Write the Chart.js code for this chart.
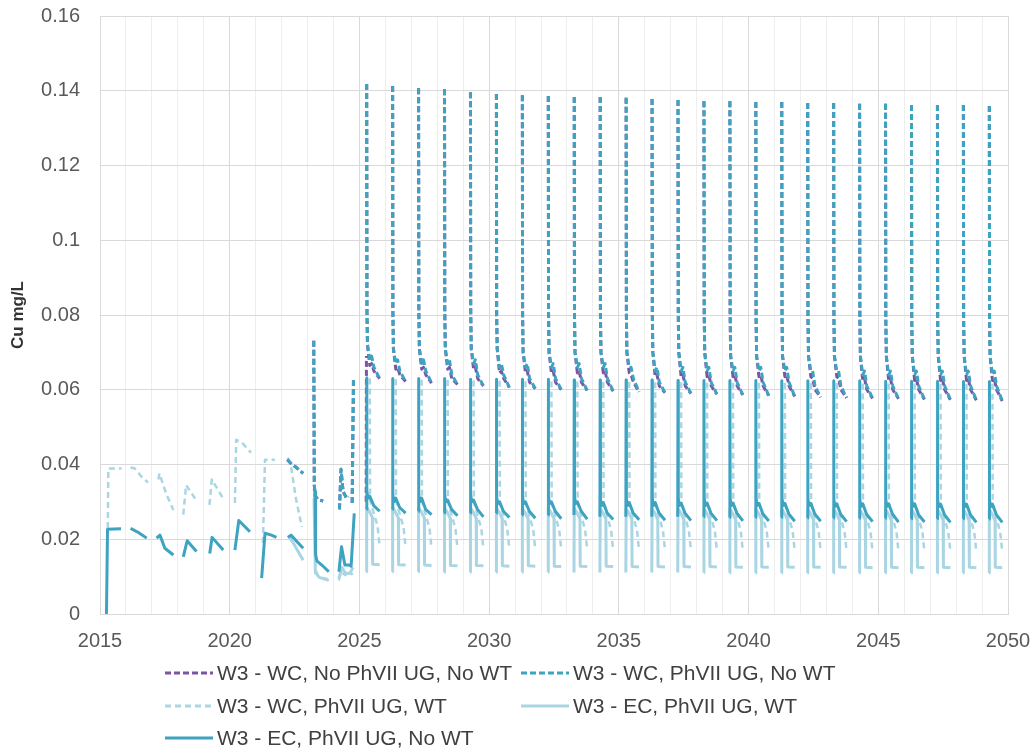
<!DOCTYPE html>
<html>
<head>
<meta charset="utf-8">
<title>W3 Cu</title>
<script src="https://cdn.jsdelivr.net/npm/chart.js@4.4.1/dist/chart.umd.min.js"></script>
<style>
body{margin:0;background:#fff;}
#wrap{position:relative;width:1034px;height:755px;}
#legend{position:absolute;left:165px;top:657px;display:grid;grid-template-columns:356px auto;}
.item{display:flex;align-items:center;height:32.5px;font:21px "Liberation Sans",Arial,sans-serif;color:#404040;white-space:nowrap;}
.item svg{margin-right:4px;}
</style>
</head>
<body>
<div id="wrap"><canvas id="chart-cu"></canvas><div id="legend"></div></div>
<script>
// tick labels
const yearTicks = [2015, 2020, 2025, 2030, 2035, 2040, 2045, 2050];

// W3 - WC, No WT (both UG cases share the same time points)
const wcNoWtYears = [
  2022.22, 2022.40, 2022.55, 2022.83, 2022.84,
  2023.24, 2023.26, 2023.30, 2023.40, 2023.60, 2023.61,
  2024.23, 2024.29, 2024.37, 2024.50, 2024.58, 2024.59, 2024.72, 2024.77, 2024.78,
  2025.26, 2025.27, 2025.275,
  2025.28, 2025.29, 2025.31, 2025.40, 2025.47, 2025.56, 2025.78, 2025.79,
  2026.28, 2026.29, 2026.31, 2026.40, 2026.47, 2026.56, 2026.78, 2026.79,
  2027.28, 2027.29, 2027.31, 2027.40, 2027.47, 2027.56, 2027.78, 2027.79,
  2028.28, 2028.29, 2028.31, 2028.40, 2028.47, 2028.56, 2028.78, 2028.79,
  2029.28, 2029.29, 2029.31, 2029.40, 2029.47, 2029.56, 2029.78, 2029.79,
  2030.28, 2030.29, 2030.31, 2030.40, 2030.47, 2030.56, 2030.78, 2030.79,
  2031.28, 2031.29, 2031.31, 2031.40, 2031.47, 2031.56, 2031.78, 2031.79,
  2032.28, 2032.29, 2032.31, 2032.40, 2032.47, 2032.56, 2032.78, 2032.79,
  2033.28, 2033.29, 2033.31, 2033.40, 2033.47, 2033.56, 2033.78, 2033.79,
  2034.28, 2034.29, 2034.31, 2034.40, 2034.47, 2034.56, 2034.78, 2034.79,
  2035.28, 2035.29, 2035.31, 2035.40, 2035.47, 2035.56, 2035.78, 2035.79,
  2036.28, 2036.29, 2036.31, 2036.40, 2036.47, 2036.56, 2036.78, 2036.79,
  2037.28, 2037.29, 2037.31, 2037.40, 2037.47, 2037.56, 2037.78, 2037.79,
  2038.28, 2038.29, 2038.31, 2038.40, 2038.47, 2038.56, 2038.78, 2038.79,
  2039.28, 2039.29, 2039.31, 2039.40, 2039.47, 2039.56, 2039.78, 2039.79,
  2040.28, 2040.29, 2040.31, 2040.40, 2040.47, 2040.56, 2040.78, 2040.79,
  2041.28, 2041.29, 2041.31, 2041.40, 2041.47, 2041.56, 2041.78, 2041.79,
  2042.28, 2042.29, 2042.31, 2042.40, 2042.47, 2042.56, 2042.78, 2042.79,
  2043.28, 2043.29, 2043.31, 2043.40, 2043.47, 2043.56, 2043.78, 2043.79,
  2044.28, 2044.29, 2044.31, 2044.40, 2044.47, 2044.56, 2044.78, 2044.79,
  2045.28, 2045.29, 2045.31, 2045.40, 2045.47, 2045.56, 2045.78, 2045.79,
  2046.28, 2046.29, 2046.31, 2046.40, 2046.47, 2046.56, 2046.78, 2046.79,
  2047.28, 2047.29, 2047.31, 2047.40, 2047.47, 2047.56, 2047.78, 2047.79,
  2048.28, 2048.29, 2048.31, 2048.40, 2048.47, 2048.56, 2048.78, 2048.79,
  2049.28, 2049.29, 2049.31, 2049.40, 2049.47, 2049.56, 2049.78, 2049.79
];
const wcNoUgNoWt = [
  0.0413, 0.0400, 0.0393, 0.0376, null,
  0.0731, 0.0344, 0.0315, 0.0307, 0.0302, null,
  0.0280, 0.0387, 0.0328, 0.0310, 0.0314, null, 0.0297, 0.0630, null,
  0.0300, 0.0690, null,
  0.1418, 0.081, 0.072, 0.0665, 0.067, 0.065, 0.0630, null,
  0.1413, 0.081, 0.071, 0.0655, 0.066, 0.064, 0.0622, null,
  0.1407, 0.081, 0.071, 0.0655, 0.066, 0.064, 0.0618, null,
  0.1404, 0.081, 0.071, 0.0655, 0.066, 0.063, 0.0614, null,
  0.1396, 0.081, 0.071, 0.0655, 0.066, 0.063, 0.0610, null,
  0.1391, 0.080, 0.071, 0.0645, 0.065, 0.063, 0.0606, null,
  0.1388, 0.080, 0.070, 0.0645, 0.065, 0.062, 0.0603, null,
  0.1386, 0.080, 0.070, 0.0645, 0.065, 0.062, 0.0600, null,
  0.1383, 0.080, 0.070, 0.0645, 0.065, 0.062, 0.0598, null,
  0.1383, 0.080, 0.070, 0.0645, 0.065, 0.062, 0.0596, null,
  0.1381, 0.080, 0.070, 0.0645, 0.064, 0.062, 0.0594, null,
  0.1378, 0.080, 0.070, 0.0635, 0.064, 0.061, 0.0592, null,
  0.1375, 0.080, 0.070, 0.0635, 0.064, 0.061, 0.0590, null,
  0.1372, 0.080, 0.070, 0.0635, 0.064, 0.061, 0.0588, null,
  0.1372, 0.080, 0.069, 0.0635, 0.064, 0.061, 0.0586, null,
  0.1370, 0.079, 0.069, 0.0635, 0.064, 0.061, 0.0584, null,
  0.1370, 0.079, 0.069, 0.0635, 0.064, 0.061, 0.0582, null,
  0.1367, 0.079, 0.069, 0.0635, 0.063, 0.060, 0.0580, null,
  0.1367, 0.079, 0.069, 0.0635, 0.063, 0.060, 0.0578, null,
  0.1365, 0.079, 0.069, 0.0625, 0.063, 0.060, 0.0577, null,
  0.1365, 0.079, 0.069, 0.0625, 0.063, 0.060, 0.0576, null,
  0.1362, 0.079, 0.069, 0.0625, 0.063, 0.060, 0.0574, null,
  0.1362, 0.079, 0.069, 0.0625, 0.063, 0.060, 0.0573, null,
  0.1362, 0.079, 0.069, 0.0625, 0.063, 0.060, 0.0572, null,
  0.1359, 0.079, 0.069, 0.0625, 0.063, 0.060, 0.0570, null
];
const wcUgNoWt = [
  0.0413, 0.0400, 0.0393, 0.0376, null,
  0.0731, 0.0344, 0.0315, 0.0307, 0.0302, null,
  0.0280, 0.0387, 0.0328, 0.0310, 0.0314, null, 0.0297, 0.0630, null,
  null, null, null,
  0.1418, 0.081, 0.072, 0.068, 0.069, 0.066, 0.0630, null,
  0.1413, 0.081, 0.071, 0.067, 0.068, 0.065, 0.0622, null,
  0.1407, 0.081, 0.071, 0.067, 0.068, 0.065, 0.0618, null,
  0.1404, 0.081, 0.071, 0.067, 0.068, 0.064, 0.0614, null,
  0.1396, 0.081, 0.071, 0.067, 0.068, 0.064, 0.0610, null,
  0.1391, 0.080, 0.071, 0.066, 0.067, 0.064, 0.0606, null,
  0.1388, 0.080, 0.070, 0.066, 0.067, 0.063, 0.0603, null,
  0.1386, 0.080, 0.070, 0.066, 0.067, 0.063, 0.0600, null,
  0.1383, 0.080, 0.070, 0.066, 0.067, 0.063, 0.0598, null,
  0.1383, 0.080, 0.070, 0.066, 0.067, 0.063, 0.0596, null,
  0.1381, 0.080, 0.070, 0.066, 0.066, 0.063, 0.0594, null,
  0.1378, 0.080, 0.070, 0.065, 0.066, 0.062, 0.0592, null,
  0.1375, 0.080, 0.070, 0.065, 0.066, 0.062, 0.0590, null,
  0.1372, 0.080, 0.070, 0.065, 0.066, 0.062, 0.0588, null,
  0.1372, 0.080, 0.069, 0.065, 0.066, 0.062, 0.0586, null,
  0.1370, 0.079, 0.069, 0.065, 0.066, 0.062, 0.0584, null,
  0.1370, 0.079, 0.069, 0.065, 0.066, 0.062, 0.0582, null,
  0.1367, 0.079, 0.069, 0.065, 0.065, 0.061, 0.0580, null,
  0.1367, 0.079, 0.069, 0.065, 0.065, 0.061, 0.0578, null,
  0.1365, 0.079, 0.069, 0.064, 0.065, 0.061, 0.0577, null,
  0.1365, 0.079, 0.069, 0.064, 0.065, 0.061, 0.0576, null,
  0.1362, 0.079, 0.069, 0.064, 0.065, 0.061, 0.0574, null,
  0.1362, 0.079, 0.069, 0.064, 0.065, 0.061, 0.0573, null,
  0.1362, 0.079, 0.069, 0.064, 0.065, 0.061, 0.0572, null,
  0.1359, 0.079, 0.069, 0.064, 0.065, 0.061, 0.0570, null
];

// W3 - WC, PhVII UG, WT
const wcWtYears = [
  2015.30, 2015.32, 2015.83, 2015.84,
  2016.18, 2016.33, 2016.62, 2016.85, 2016.86,
  2017.25, 2017.29, 2017.55, 2017.83, 2017.84,
  2018.21, 2018.32, 2018.72, 2018.73,
  2019.22, 2019.31, 2019.74, 2019.75,
  2020.20, 2020.25, 2020.45, 2020.82, 2020.83,
  2021.28, 2021.36, 2021.74, 2021.75,
  2022.24, 2022.36, 2022.55, 2022.78, 2022.79,
  2023.26, 2023.30, 2023.42, 2023.60, 2023.84, 2023.85,
  2024.20, 2024.30, 2024.45, 2024.62, 2024.74, 2024.75,
  2025.40, 2025.41, 2025.55, 2025.70, 2025.78, 2025.79,
  2026.40, 2026.41, 2026.55, 2026.70, 2026.78, 2026.79,
  2027.40, 2027.41, 2027.55, 2027.70, 2027.78, 2027.79,
  2028.40, 2028.41, 2028.55, 2028.70, 2028.78, 2028.79,
  2029.40, 2029.41, 2029.55, 2029.70, 2029.78, 2029.79,
  2030.40, 2030.41, 2030.55, 2030.70, 2030.78, 2030.79,
  2031.40, 2031.41, 2031.55, 2031.70, 2031.78, 2031.79,
  2032.40, 2032.41, 2032.55, 2032.70, 2032.78, 2032.79,
  2033.40, 2033.41, 2033.55, 2033.70, 2033.78, 2033.79,
  2034.40, 2034.41, 2034.55, 2034.70, 2034.78, 2034.79,
  2035.40, 2035.41, 2035.55, 2035.70, 2035.78, 2035.79,
  2036.40, 2036.41, 2036.55, 2036.70, 2036.78, 2036.79,
  2037.40, 2037.41, 2037.55, 2037.70, 2037.78, 2037.79,
  2038.40, 2038.41, 2038.55, 2038.70, 2038.78, 2038.79,
  2039.40, 2039.41, 2039.55, 2039.70, 2039.78, 2039.79,
  2040.40, 2040.41, 2040.55, 2040.70, 2040.78, 2040.79,
  2041.40, 2041.41, 2041.55, 2041.70, 2041.78, 2041.79,
  2042.40, 2042.41, 2042.55, 2042.70, 2042.78, 2042.79,
  2043.40, 2043.41, 2043.55, 2043.70, 2043.78, 2043.79,
  2044.40, 2044.41, 2044.55, 2044.70, 2044.78, 2044.79,
  2045.40, 2045.41, 2045.55, 2045.70, 2045.78, 2045.79,
  2046.40, 2046.41, 2046.55, 2046.70, 2046.78, 2046.79,
  2047.40, 2047.41, 2047.55, 2047.70, 2047.78, 2047.79,
  2048.40, 2048.41, 2048.55, 2048.70, 2048.78, 2048.79,
  2049.40, 2049.41, 2049.55, 2049.70, 2049.78, 2049.79
];
const wcUgWt = [
  0.0230, 0.0389, 0.0389, null,
  0.0392, 0.0390, 0.0366, 0.0352, null,
  0.0360, 0.0376, 0.0322, 0.0278, null,
  0.0266, 0.0345, 0.0303, null,
  0.0292, 0.0360, 0.0310, null,
  0.0297, 0.0466, 0.0460, 0.0432, null,
  0.0190, 0.0413, 0.0413, null,
  0.0418, 0.0396, 0.0310, 0.0233, null,
  0.0330, 0.0120, 0.0100, 0.0096, 0.0093, null,
  0.0090, 0.0112, 0.0104, 0.0113, 0.0105, null,
  0.0630, 0.0305, 0.0270, 0.0235, 0.0180, null,
  0.0628, 0.0303, 0.0268, 0.0232, 0.0178, null,
  0.0627, 0.0302, 0.0267, 0.0230, 0.0176, null,
  0.0626, 0.0301, 0.0266, 0.0229, 0.0175, null,
  0.0625, 0.0300, 0.0265, 0.0228, 0.0174, null,
  0.0624, 0.0300, 0.0264, 0.0227, 0.0173, null,
  0.0623, 0.0299, 0.0263, 0.0226, 0.0172, null,
  0.0622, 0.0299, 0.0263, 0.0225, 0.0172, null,
  0.0622, 0.0298, 0.0262, 0.0225, 0.0171, null,
  0.0621, 0.0298, 0.0262, 0.0224, 0.0171, null,
  0.0621, 0.0297, 0.0261, 0.0224, 0.0170, null,
  0.0620, 0.0297, 0.0261, 0.0223, 0.0170, null,
  0.0620, 0.0296, 0.0260, 0.0223, 0.0169, null,
  0.0619, 0.0296, 0.0260, 0.0222, 0.0169, null,
  0.0619, 0.0296, 0.0260, 0.0222, 0.0168, null,
  0.0619, 0.0295, 0.0259, 0.0221, 0.0168, null,
  0.0618, 0.0295, 0.0259, 0.0221, 0.0168, null,
  0.0618, 0.0295, 0.0259, 0.0221, 0.0167, null,
  0.0618, 0.0294, 0.0258, 0.0220, 0.0167, null,
  0.0617, 0.0294, 0.0258, 0.0220, 0.0167, null,
  0.0617, 0.0294, 0.0258, 0.0220, 0.0166, null,
  0.0617, 0.0294, 0.0258, 0.0220, 0.0166, null,
  0.0616, 0.0293, 0.0257, 0.0219, 0.0166, null,
  0.0616, 0.0293, 0.0257, 0.0219, 0.0166, null,
  0.0616, 0.0293, 0.0257, 0.0219, 0.0165, null
];

// W3 - EC, PhVII UG, WT
const ecWtYears = [
  2022.30, 2022.45, 2022.83, 2022.84,
  2023.25, 2023.30, 2023.45, 2023.82, 2023.83,
  2024.21, 2024.32, 2024.45, 2024.62, 2024.76, 2024.77,
  2025.27, 2025.28, 2025.38, 2025.50, 2025.51, 2025.78, 2025.79,
  2026.27, 2026.28, 2026.38, 2026.50, 2026.51, 2026.78, 2026.79,
  2027.27, 2027.28, 2027.38, 2027.50, 2027.51, 2027.78, 2027.79,
  2028.27, 2028.28, 2028.38, 2028.50, 2028.51, 2028.78, 2028.79,
  2029.27, 2029.28, 2029.38, 2029.50, 2029.51, 2029.78, 2029.79,
  2030.27, 2030.28, 2030.38, 2030.50, 2030.51, 2030.78, 2030.79,
  2031.27, 2031.28, 2031.38, 2031.50, 2031.51, 2031.78, 2031.79,
  2032.27, 2032.28, 2032.38, 2032.50, 2032.51, 2032.78, 2032.79,
  2033.27, 2033.28, 2033.38, 2033.50, 2033.51, 2033.78, 2033.79,
  2034.27, 2034.28, 2034.38, 2034.50, 2034.51, 2034.78, 2034.79,
  2035.27, 2035.28, 2035.38, 2035.50, 2035.51, 2035.78, 2035.79,
  2036.27, 2036.28, 2036.38, 2036.50, 2036.51, 2036.78, 2036.79,
  2037.27, 2037.28, 2037.38, 2037.50, 2037.51, 2037.78, 2037.79,
  2038.27, 2038.28, 2038.38, 2038.50, 2038.51, 2038.78, 2038.79,
  2039.27, 2039.28, 2039.38, 2039.50, 2039.51, 2039.78, 2039.79,
  2040.27, 2040.28, 2040.38, 2040.50, 2040.51, 2040.78, 2040.79,
  2041.27, 2041.28, 2041.38, 2041.50, 2041.51, 2041.78, 2041.79,
  2042.27, 2042.28, 2042.38, 2042.50, 2042.51, 2042.78, 2042.79,
  2043.27, 2043.28, 2043.38, 2043.50, 2043.51, 2043.78, 2043.79,
  2044.27, 2044.28, 2044.38, 2044.50, 2044.51, 2044.78, 2044.79,
  2045.27, 2045.28, 2045.38, 2045.50, 2045.51, 2045.78, 2045.79,
  2046.27, 2046.28, 2046.38, 2046.50, 2046.51, 2046.78, 2046.79,
  2047.27, 2047.28, 2047.38, 2047.50, 2047.51, 2047.78, 2047.79,
  2048.27, 2048.28, 2048.38, 2048.50, 2048.51, 2048.78, 2048.79,
  2049.27, 2049.28, 2049.38, 2049.50, 2049.51, 2049.78, 2049.79
];
const ecUgWt = [
  0.0205, 0.0190, 0.0144, null,
  0.0310, 0.0110, 0.0098, 0.0090, null,
  0.0095, 0.0125, 0.0110, 0.0108, 0.0125, null,
  0.0113, 0.0285, 0.0275, 0.0258, 0.0133, 0.0132, null,
  0.0113, 0.0284, 0.0274, 0.0257, 0.0132, 0.0131, null,
  0.0113, 0.0284, 0.0274, 0.0257, 0.0131, 0.0130, null,
  0.0112, 0.0283, 0.0273, 0.0256, 0.0130, 0.0129, null,
  0.0112, 0.0283, 0.0273, 0.0256, 0.0130, 0.0129, null,
  0.0112, 0.0283, 0.0273, 0.0255, 0.0129, 0.0128, null,
  0.0112, 0.0282, 0.0272, 0.0255, 0.0129, 0.0128, null,
  0.0112, 0.0282, 0.0272, 0.0255, 0.0128, 0.0127, null,
  0.0111, 0.0282, 0.0272, 0.0254, 0.0128, 0.0127, null,
  0.0111, 0.0282, 0.0272, 0.0254, 0.0128, 0.0127, null,
  0.0111, 0.0281, 0.0271, 0.0254, 0.0127, 0.0126, null,
  0.0111, 0.0281, 0.0271, 0.0253, 0.0127, 0.0126, null,
  0.0111, 0.0281, 0.0271, 0.0253, 0.0127, 0.0126, null,
  0.0111, 0.0281, 0.0271, 0.0253, 0.0127, 0.0126, null,
  0.0110, 0.0280, 0.0270, 0.0252, 0.0126, 0.0125, null,
  0.0110, 0.0280, 0.0270, 0.0252, 0.0126, 0.0125, null,
  0.0110, 0.0280, 0.0270, 0.0252, 0.0126, 0.0125, null,
  0.0110, 0.0280, 0.0270, 0.0252, 0.0126, 0.0125, null,
  0.0110, 0.0280, 0.0270, 0.0251, 0.0126, 0.0125, null,
  0.0110, 0.0279, 0.0269, 0.0251, 0.0125, 0.0124, null,
  0.0110, 0.0279, 0.0269, 0.0251, 0.0125, 0.0124, null,
  0.0110, 0.0279, 0.0269, 0.0251, 0.0125, 0.0124, null,
  0.0110, 0.0279, 0.0269, 0.0251, 0.0125, 0.0124, null,
  0.0110, 0.0279, 0.0269, 0.0250, 0.0125, 0.0124, null,
  0.0110, 0.0279, 0.0269, 0.0250, 0.0125, 0.0124, null
];

// W3 - EC, PhVII UG, No WT
const ecNoWtYears = [
  2015.25, 2015.29, 2015.81, 2015.82,
  2016.18, 2016.48, 2016.80, 2016.81,
  2017.18, 2017.31, 2017.50, 2017.83, 2017.84,
  2018.21, 2018.36, 2018.72, 2018.73,
  2019.23, 2019.32, 2019.75, 2019.76,
  2020.20, 2020.35, 2020.78, 2020.79,
  2021.23, 2021.36, 2021.61, 2021.80, 2021.81,
  2022.24, 2022.36, 2022.83, 2022.84,
  2023.25, 2023.29, 2023.31, 2023.36, 2023.55, 2023.82, 2023.83,
  2024.21, 2024.31, 2024.44, 2024.60, 2024.68, 2024.80, 2024.81,
  2025.27, 2025.28, 2025.29, 2025.33, 2025.40, 2025.55, 2025.78, 2025.79,
  2026.27, 2026.28, 2026.29, 2026.33, 2026.40, 2026.55, 2026.78, 2026.79,
  2027.27, 2027.28, 2027.29, 2027.33, 2027.40, 2027.55, 2027.78, 2027.79,
  2028.27, 2028.28, 2028.29, 2028.33, 2028.40, 2028.55, 2028.78, 2028.79,
  2029.27, 2029.28, 2029.29, 2029.33, 2029.40, 2029.55, 2029.78, 2029.79,
  2030.27, 2030.28, 2030.29, 2030.33, 2030.40, 2030.55, 2030.78, 2030.79,
  2031.27, 2031.28, 2031.29, 2031.33, 2031.40, 2031.55, 2031.78, 2031.79,
  2032.27, 2032.28, 2032.29, 2032.33, 2032.40, 2032.55, 2032.78, 2032.79,
  2033.27, 2033.28, 2033.29, 2033.33, 2033.40, 2033.55, 2033.78, 2033.79,
  2034.27, 2034.28, 2034.29, 2034.33, 2034.40, 2034.55, 2034.78, 2034.79,
  2035.27, 2035.28, 2035.29, 2035.33, 2035.40, 2035.55, 2035.78, 2035.79,
  2036.27, 2036.28, 2036.29, 2036.33, 2036.40, 2036.55, 2036.78, 2036.79,
  2037.27, 2037.28, 2037.29, 2037.33, 2037.40, 2037.55, 2037.78, 2037.79,
  2038.27, 2038.28, 2038.29, 2038.33, 2038.40, 2038.55, 2038.78, 2038.79,
  2039.27, 2039.28, 2039.29, 2039.33, 2039.40, 2039.55, 2039.78, 2039.79,
  2040.27, 2040.28, 2040.29, 2040.33, 2040.40, 2040.55, 2040.78, 2040.79,
  2041.27, 2041.28, 2041.29, 2041.33, 2041.40, 2041.55, 2041.78, 2041.79,
  2042.27, 2042.28, 2042.29, 2042.33, 2042.40, 2042.55, 2042.78, 2042.79,
  2043.27, 2043.28, 2043.29, 2043.33, 2043.40, 2043.55, 2043.78, 2043.79,
  2044.27, 2044.28, 2044.29, 2044.33, 2044.40, 2044.55, 2044.78, 2044.79,
  2045.27, 2045.28, 2045.29, 2045.33, 2045.40, 2045.55, 2045.78, 2045.79,
  2046.27, 2046.28, 2046.29, 2046.33, 2046.40, 2046.55, 2046.78, 2046.79,
  2047.27, 2047.28, 2047.29, 2047.33, 2047.40, 2047.55, 2047.78, 2047.79,
  2048.27, 2048.28, 2048.29, 2048.33, 2048.40, 2048.55, 2048.78, 2048.79,
  2049.27, 2049.28, 2049.29, 2049.33, 2049.40, 2049.55, 2049.78, 2049.79
];
const ecUgNoWt = [
  0.0000, 0.0227, 0.0228, null,
  0.0229, 0.0218, 0.0203, null,
  0.0203, 0.0211, 0.0176, 0.0158, null,
  0.0153, 0.0196, 0.0167, null,
  0.0162, 0.0205, 0.0171, null,
  0.0171, 0.0250, 0.0220, null,
  0.0096, 0.0216, 0.0211, 0.0205, null,
  0.0205, 0.0211, 0.0176, null,
  0.0336, 0.0328, 0.0160, 0.0142, 0.0131, 0.0113, null,
  0.0113, 0.0180, 0.0131, 0.0131, 0.0128, 0.0269, null,
  0.0280, 0.0632, 0.0330, 0.0310, 0.0315, 0.0290, 0.0275, null,
  0.0280, 0.0630, 0.0320, 0.0300, 0.0310, 0.0285, 0.0270, null,
  0.0275, 0.0630, 0.0320, 0.0300, 0.0310, 0.0280, 0.0266, null,
  0.0270, 0.0630, 0.0320, 0.0300, 0.0305, 0.0280, 0.0263, null,
  0.0270, 0.0628, 0.0320, 0.0300, 0.0305, 0.0280, 0.0260, null,
  0.0270, 0.0628, 0.0315, 0.0295, 0.0300, 0.0275, 0.0258, null,
  0.0265, 0.0628, 0.0315, 0.0295, 0.0300, 0.0275, 0.0256, null,
  0.0265, 0.0628, 0.0315, 0.0295, 0.0300, 0.0275, 0.0255, null,
  0.0265, 0.0626, 0.0315, 0.0295, 0.0300, 0.0275, 0.0254, null,
  0.0260, 0.0626, 0.0310, 0.0290, 0.0298, 0.0270, 0.0253, null,
  0.0260, 0.0626, 0.0310, 0.0290, 0.0298, 0.0270, 0.0252, null,
  0.0260, 0.0626, 0.0310, 0.0290, 0.0298, 0.0270, 0.0251, null,
  0.0260, 0.0625, 0.0310, 0.0290, 0.0297, 0.0270, 0.0250, null,
  0.0260, 0.0625, 0.0310, 0.0290, 0.0297, 0.0270, 0.0250, null,
  0.0258, 0.0625, 0.0310, 0.0290, 0.0297, 0.0270, 0.0249, null,
  0.0258, 0.0625, 0.0310, 0.0290, 0.0296, 0.0268, 0.0249, null,
  0.0258, 0.0624, 0.0310, 0.0290, 0.0296, 0.0268, 0.0248, null,
  0.0257, 0.0624, 0.0310, 0.0290, 0.0296, 0.0268, 0.0248, null,
  0.0257, 0.0624, 0.0308, 0.0288, 0.0295, 0.0267, 0.0247, null,
  0.0256, 0.0624, 0.0308, 0.0288, 0.0295, 0.0267, 0.0247, null,
  0.0256, 0.0623, 0.0308, 0.0288, 0.0295, 0.0267, 0.0246, null,
  0.0255, 0.0623, 0.0308, 0.0288, 0.0295, 0.0266, 0.0246, null,
  0.0255, 0.0623, 0.0307, 0.0287, 0.0294, 0.0266, 0.0245, null,
  0.0255, 0.0622, 0.0307, 0.0287, 0.0294, 0.0266, 0.0245, null,
  0.0254, 0.0622, 0.0307, 0.0287, 0.0294, 0.0266, 0.0245, null
];

const teal = '#3ea3c1';
const lightBlue = '#aad5e3';
const purple = '#7b55a3';

function toPoints(years, values) {
    return years.map((x, i) => ({x: x, y: values[i]}));
}

Chart.defaults.font.family = '"Liberation Sans", Arial, sans-serif';

const chartCu = new Chart(document.getElementById('chart-cu'), {
    type: 'line',
    data: {
        datasets: [
            {label: 'W3 - WC, No PhVII UG, No WT', data: toPoints(wcNoWtYears, wcNoUgNoWt),
             borderColor: purple, borderWidth: 3, borderDash: [6, 3], order: 3},
            {label: 'W3 - WC, PhVII UG, No WT', data: toPoints(wcNoWtYears, wcUgNoWt),
             borderColor: teal, borderWidth: 3, borderDash: [6, 3], order: 1},
            {label: 'W3 - WC, PhVII UG, WT', data: toPoints(wcWtYears, wcUgWt),
             borderColor: lightBlue, borderWidth: 2.5, borderDash: [6, 4], order: 4},
            {label: 'W3 - EC, PhVII UG, WT', data: toPoints(ecWtYears, ecUgWt),
             borderColor: lightBlue, borderWidth: 3, order: 5},
            {label: 'W3 - EC, PhVII UG, No WT', data: toPoints(ecNoWtYears, ecUgNoWt),
             borderColor: teal, borderWidth: 3, order: 2}
        ]
    },
    options: {
        responsive: true,
        maintainAspectRatio: false,
        animation: false,
        spanGaps: false,
        layout: {padding: {top: 16, right: 26, left: 0, bottom: 0}},
        elements: {
            point: {radius: 0, hoverRadius: 0},
            line: {tension: 0, borderJoinStyle: 'round', borderCapStyle: 'butt', fill: false}
        },
        scales: {
            x: {
                type: 'linear', min: 2015, max: 2050,
                afterFit: s => { s.height = 141; },
                ticks: {
                    stepSize: 1, autoSkip: false, maxRotation: 0, padding: 2,
                    color: '#595959', font: {size: 20},
                    callback: v => yearTicks.includes(v) ? String(v) : ''
                },
                // invisible tick marks just push the labels away from the axis
                grid: {tickLength: 13, tickColor: 'rgba(0,0,0,0)',
                       color: c => (c.tick && c.tick.value % 5 === 0) ? '#d9d9d9' : '#eeeeee'},
                border: {color: '#d9d9d9'}
            },
            y: {
                min: 0, max: 0.16,
                afterFit: s => { s.width = 100; },
                ticks: {
                    stepSize: 0.02, padding: 2, color: '#595959', font: {size: 20},
                    callback: v => String(+v.toFixed(2))
                },
                grid: {tickLength: 18, tickColor: 'rgba(0,0,0,0)', color: '#d9d9d9'},
                border: {display: false},
                title: {display: true, text: 'Cu mg/L', color: '#333333', font: {size: 17, weight: 'bold'}, padding: {top: 8, bottom: 0}}
            }
        },
        plugins: {legend: {display: false}, tooltip: {enabled: false}}
    }
});

// html legend so the two columns line up like the original
function buildLegend(chart) {
    const box = document.getElementById('legend');
    chart.data.datasets.forEach(ds => {
        const item = document.createElement('div');
        item.className = 'item';
        const dash = ds.borderDash ? ds.borderDash.join(' ') : 'none';
        item.innerHTML = `<svg width="48" height="12"><line x1="0" y1="6" x2="48" y2="6" stroke="${ds.borderColor}" stroke-width="3" stroke-dasharray="${dash}"/></svg><span>${ds.label}</span>`;
        box.appendChild(item);
    });
}
buildLegend(chartCu);
</script>
</body>
</html>
